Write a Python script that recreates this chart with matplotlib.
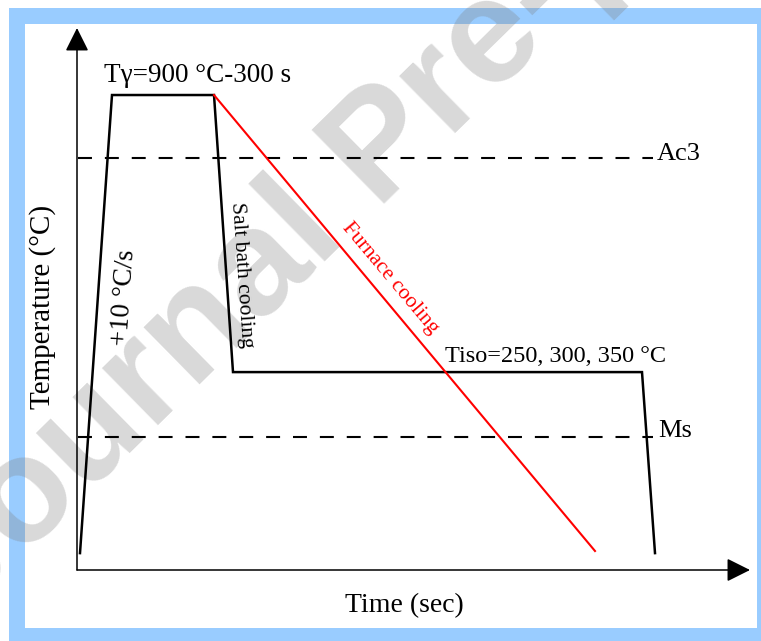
import matplotlib
matplotlib.use('Agg')
import matplotlib.pyplot as plt
from matplotlib.patches import Rectangle

# Schematic heat-treatment cycle (time in arbitrary units, temperature in deg C)
cycle_time = [0.3, 3.5, 13.7, 15.6, 56.5, 57.8]
cycle_temp = [32, 900, 900, 375, 375, 32]

furnace_time = [13.7, 51.8]
furnace_temp = [900, 36]

ac3_temp = 781
ms_temp = 252
crit_time = [0.1, 57.6]

W, H = 761, 641
def fx(px):
    return px / W
def fy(py):
    return 1 - py / H

serif = 'Liberation Serif'

fig = plt.figure(figsize=(W / 100, H / 100), dpi=100)

# light blue frame around the picture
fig.patches.append(Rectangle((fx(9), 0), 1, fy(8), transform=fig.transFigure,
                             facecolor='#99ccff', edgecolor='none', zorder=-3))
fig.patches.append(Rectangle((fx(25), fy(628)), fx(757) - fx(25), fy(24) - fy(628),
                             transform=fig.transFigure, facecolor='white',
                             edgecolor='none', zorder=-2))

# watermark
fig.text(fx(-39), fy(619), 'Journal Pre-proof', rotation=44.5, rotation_mode='anchor',
         ha='left', va='baseline', fontsize=108, fontweight='bold',
         family='Liberation Sans', color='#808080', alpha=0.3, zorder=-1)

ax = fig.add_axes([fx(77), fy(570), (750 - 77) / W, (570 - 28) / H])
ax.set_facecolor('none')
ax.set_xlim(0, 67.3)
ax.set_ylim(0, 1027)
for s in ax.spines.values():
    s.set_visible(False)
ax.set_xticks([])
ax.set_yticks([])

# axis arrows
arrow = dict(arrowstyle='-|>,head_length=0.8,head_width=0.4', mutation_scale=18,
             color='black', lw=1.1, shrinkA=0, shrinkB=0)
ax.annotate('', xy=(1, 0), xytext=(0, 0), xycoords='axes fraction', arrowprops=arrow)
ax.annotate('', xy=(0, 1), xytext=(0, 0), xycoords='axes fraction', arrowprops=arrow)

# critical temperatures
ax.plot(crit_time, [ac3_temp, ac3_temp], color='black', lw=1.5, dashes=(6.7, 6.2))
ax.plot(crit_time, [ms_temp, ms_temp], color='black', lw=1.5, dashes=(6.7, 6.2))

# cycles
ax.plot(cycle_time, cycle_temp, color='black', lw=1.8, solid_joinstyle='miter')
ax.plot(furnace_time, furnace_temp, color='red', lw=1.5)

# annotations
ax.text(12.05, 925, 'T\u03b3=900 \u00b0C-300 s', ha='center', va='baseline',
        fontsize=19.5, family=serif)
ax.text(47.85, 394, 'Tiso=250, 300, 350 \u00b0C', ha='center', va='baseline',
        fontsize=17.5, family=serif)
ax.text(58.0, ac3_temp - 4, 'Ac3', ha='left', va='baseline', fontsize=19, family=serif)
ax.text(58.1, ms_temp, 'Ms', ha='left', va='baseline', fontsize=19, family=serif)
ax.text(4.7, 517, '+10 \u00b0C/s', ha='center', va='center', rotation=86,
        rotation_mode='anchor', fontsize=19.5, family=serif)
ax.text(16.5, 559, 'Salt bath cooling', ha='center', va='center', rotation=-86,
        rotation_mode='anchor', fontsize=15.5, family=serif)
ax.text(31.3, 553, 'Furnace cooling', ha='center', va='center', rotation=-50,
        rotation_mode='anchor', fontsize=15.5, family=serif, color='red')

fig.text(fx(404), fy(606), 'Time (sec)', ha='center', va='center', fontsize=20, family=serif)
fig.text(fx(43), fy(307), 'Temperature (\u00b0C)', ha='center', va='center', rotation=90,
         fontsize=21, family=serif)

fig.savefig('out.png', dpi=100)
